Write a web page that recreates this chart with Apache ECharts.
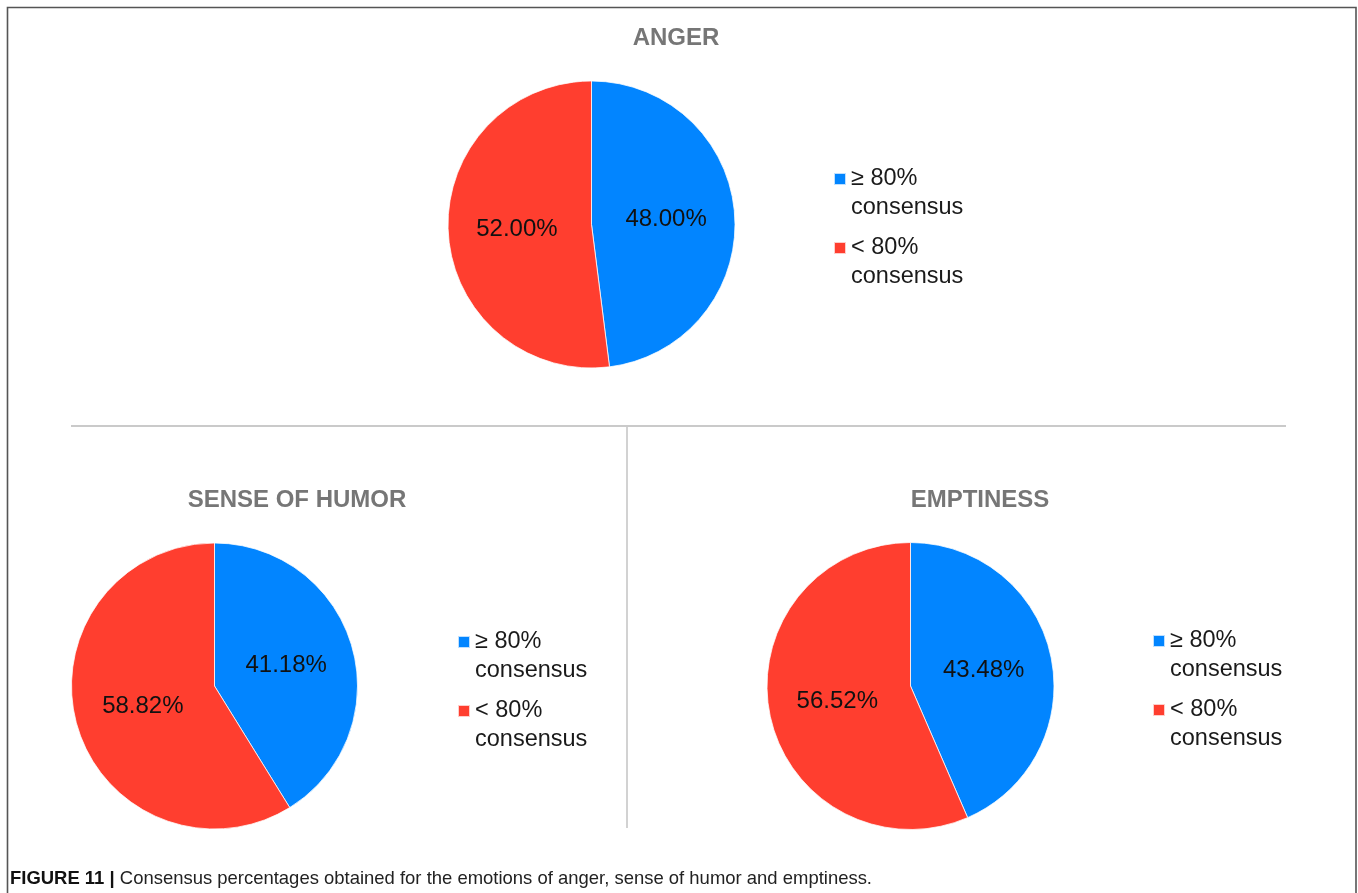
<!DOCTYPE html>
<html>
<head>
<meta charset="utf-8">
<script src="https://cdn.jsdelivr.net/npm/echarts@6/dist/echarts.min.js"></script>
<style>
  html, body { margin: 0; padding: 0; background: #fff; }
  #chart { width: 1358px; height: 893px; }
</style>
</head>
<body>
<div id="chart"></div>
<script>
// Consensus categories shared by the three pies
const categories = ['\u2265 80%\nconsensus', '< 80%\nconsensus'];
const sliceColors = ['#0285FF', '#FF3E2F'];

// Share of items (%) in each consensus category
const angerValues = [48.00, 52.00];
const humorValues = [41.18, 58.82];
const emptinessValues = [43.48, 56.52];

const panelTitles = ['ANGER', 'SENSE OF HUMOR', 'EMPTINESS'];
const captionBold = 'FIGURE 11 |';
const captionText = ' Consensus percentages obtained for the emotions of anger, sense of humor and emptiness.';

const FONT = '"Liberation Sans", Arial, Helvetica, sans-serif';
const CAPTION_SIZE = 19;
const CAPTION_WIDTH = 862;

function toData(values) {
  return values.map((v, i) => ({ name: categories[i], value: v, itemStyle: { color: sliceColors[i] } }));
}

function pieSeries(values, center, radius) {
  return {
    type: 'pie',
    center: center,
    radius: radius,
    startAngle: 90,
    clockwise: true,
    silent: true,
    itemStyle: { borderColor: 'rgba(255,255,255,0.75)', borderWidth: 1 },
    label: {
      show: true,
      position: 'inside',
      formatter: p => p.value.toFixed(2) + '%',
      fontFamily: FONT,
      fontSize: 24,
      color: '#111'
    },
    labelLine: { show: false },
    emphasis: { disabled: true },
    data: toData(values)
  };
}

function legendAt(left, top) {
  return {
    orient: 'vertical',
    left: left,
    top: top,
    padding: 0,
    itemWidth: 12,
    itemHeight: 12,
    itemGap: -18,
    icon: 'rect',
    selectedMode: false,
    data: categories,
    // an empty leading line keeps the square level with the first text line
    formatter: name => ' \n' + name,
    textStyle: {
      fontFamily: FONT,
      fontSize: 23.5,
      lineHeight: 29,
      color: '#1a1a1a',
      backgroundColor: 'rgba(0,0,0,0)'
    }
  };
}

function titleText(text, x, y) {
  return {
    type: 'text',
    x: x,
    y: y,
    silent: true,
    style: {
      text: text,
      fontFamily: FONT,
      fontSize: 24,
      fontWeight: 'bold',
      fill: '#767676',
      align: 'center',
      verticalAlign: 'middle'
    }
  };
}

// horizontal squeeze giving the caption a condensed look
function captionScale() {
  const ctx = document.createElement('canvas').getContext('2d');
  ctx.font = 'bold ' + CAPTION_SIZE + 'px "Liberation Sans"';
  let w = ctx.measureText(captionBold).width;
  ctx.font = CAPTION_SIZE + 'px "Liberation Sans"';
  w += ctx.measureText(captionText).width;
  return CAPTION_WIDTH / w;
}

const chart = echarts.init(document.getElementById('chart'), null, { renderer: 'canvas' });

chart.setOption({
  animation: false,
  backgroundColor: '#ffffff',
  legend: [
    legendAt(833, 135.5),
    legendAt(457, 598.5),
    legendAt(1152, 597.5)
  ],
  series: [
    pieSeries(angerValues, [591.5, 224.5], 143.5),
    pieSeries(humorValues, [214.5, 686], 143),
    pieSeries(emptinessValues, [910.5, 686], 143.5)
  ],
  graphic: [
    // outer frame
    {
      type: 'rect',
      silent: true,
      shape: { x: 7.5, y: 7.5, width: 1348.5, height: 920 },
      style: { fill: 'none', stroke: '#555555', lineWidth: 1.6 }
    },
    // panel separators
    {
      type: 'line',
      silent: true,
      shape: { x1: 71, y1: 426, x2: 1286, y2: 426 },
      style: { stroke: '#b8b8b8', lineWidth: 1.5 }
    },
    {
      type: 'line',
      silent: true,
      shape: { x1: 627, y1: 427, x2: 627, y2: 828 },
      style: { stroke: '#d2d2d2', lineWidth: 2 }
    },
    titleText(panelTitles[0], 676, 38),
    titleText(panelTitles[1], 297, 500),
    titleText(panelTitles[2], 980, 500),
    // figure caption
    {
      type: 'text',
      x: 10,
      y: 879,
      scaleX: captionScale(),
      silent: true,
      style: {
        text: '{b|' + captionBold + '}' + captionText,
        fontFamily: '"Liberation Sans", Arial, sans-serif',
        fontSize: CAPTION_SIZE,
        fill: '#222',
        verticalAlign: 'middle',
        rich: {
          b: {
            fontFamily: '"Liberation Sans", Arial, sans-serif',
            fontSize: CAPTION_SIZE,
            fontWeight: 'bold',
            fill: '#111'
          }
        }
      }
    }
  ]
});
</script>
</body>
</html>
